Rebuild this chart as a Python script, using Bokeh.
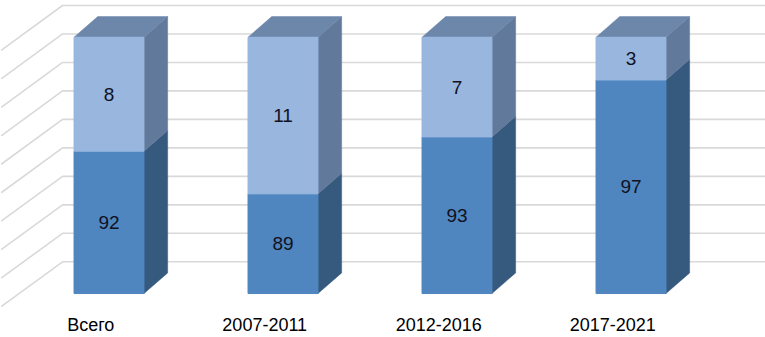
from bokeh.plotting import figure
from bokeh.models import ColumnDataSource, Range1d, FixedTicker
from bokeh.core.properties import value
from bokeh.embed import file_html
from bokeh.resources import INLINE

# ---- data ----
categories = ["Всего", "2007-2011", "2012-2016", "2017-2021"]
lower_vals = [92, 89, 93, 97]
upper_vals = [8, 11, 7, 3]
axis_min = 82
axis_max = 100
grid_step = 2

# ---- styling / geometry (data units) ----
half_w = 0.201          # half bar width in category units
dep_x = 0.136           # 3D depth offset (x)
dep_y = 1.45            # 3D depth offset (y, value units)
wall_x = -0.267         # back-wall left edge
wall_dy = 2.23          # back-wall vertical offset
diag_x = -0.62
diag_dy = -3.15
label_shift = -0.105

c_low_front = "#4F86C0"
c_low_side = "#36597E"
c_up_front = "#98B6DE"
c_up_side = "#61799A"
c_top = "#6D87AA"
grid_col = "#D9D9D9"
FONT = "Liberation Sans"

p = figure(width=765, height=337, x_range=Range1d(-0.6236, 3.773),
           y_range=Range1d(80.95, 102.58), output_backend="svg",
           toolbar_location=None, min_border=0, y_axis_location=None)
p.grid.visible = False
p.outline_line_color = None
p.background_fill_color = "white"
p.border_fill_color = "white"

ticks = [i + label_shift for i in range(len(categories))]
xa = p.xaxis[0]
xa.ticker = FixedTicker(ticks=ticks)
xa.major_label_overrides = {t: c for t, c in zip(ticks, categories)}
xa.axis_line_color = None
xa.major_tick_line_color = None
xa.minor_tick_line_color = None
xa.major_tick_out = 0
xa.major_tick_in = 0
xa.major_label_standoff = 6
xa.major_label_text_font = FONT
xa.major_label_text_font_size = "18px"
xa.major_label_text_color = "#000000"

# ---- gridlines on back wall + side wall diagonals ----
gx, gy = [], []
g = axis_min
while g <= axis_max:
    yb = g + wall_dy
    gx.append([diag_x, wall_x, 3.9])
    gy.append([yb + diag_dy, yb, yb])
    g += grid_step
p.multi_line(gx, gy, line_color=grid_col, line_width=1.6)

# ---- bars ----
idx = list(range(len(categories)))
tops = [lo + up for lo, up in zip(lower_vals, upper_vals)]

sx, sy, sc = [], [], []
for i, lo, tp in zip(idx, lower_vals, tops):
    r = i + half_w
    sx.append([r, r + dep_x, r + dep_x, r])
    sy.append([axis_min, axis_min + dep_y, lo + dep_y, lo])
    sc.append(c_low_side)
    sx.append([r, r + dep_x, r + dep_x, r])
    sy.append([lo, lo + dep_y, tp + dep_y, tp])
    sc.append(c_up_side)
for i, tp in zip(idx, tops):
    l = i - half_w
    r = i + half_w
    sx.append([l, l + dep_x, r + dep_x, r])
    sy.append([tp, tp + dep_y, tp + dep_y, tp])
    sc.append(c_top)
p.patches(sx, sy, fill_color=sc, line_color=sc, line_width=0.5)

src = ColumnDataSource(dict(
    x=idx,
    lo=lower_vals,
    top=tops,
    base=[axis_min] * len(idx),
    lo_mid=[(axis_min + lo) / 2 for lo in lower_vals],
    up_mid=[(lo + tp) / 2 for lo, tp in zip(lower_vals, tops)],
    lo_txt=[str(v) for v in lower_vals],
    up_txt=[str(v) for v in upper_vals],
))

p.vbar(x="x", width=2 * half_w, bottom="base", top="lo", source=src,
       fill_color=c_low_front, line_color=c_low_front)
p.vbar(x="x", width=2 * half_w, bottom="lo", top="top", source=src,
       fill_color=c_up_front, line_color=c_up_front)

p.text(x="x", y="lo_mid", text="lo_txt", source=src, text_align="center",
       text_baseline="middle", text_font=value(FONT), text_font_size="19px",
       text_color="#111122")
p.text(x="x", y="up_mid", text="up_txt", source=src, text_align="center",
       text_baseline="middle", text_font=value(FONT), text_font_size="19px",
       text_color="#111122")

open("out.html", "w").write(file_html(p, INLINE))
